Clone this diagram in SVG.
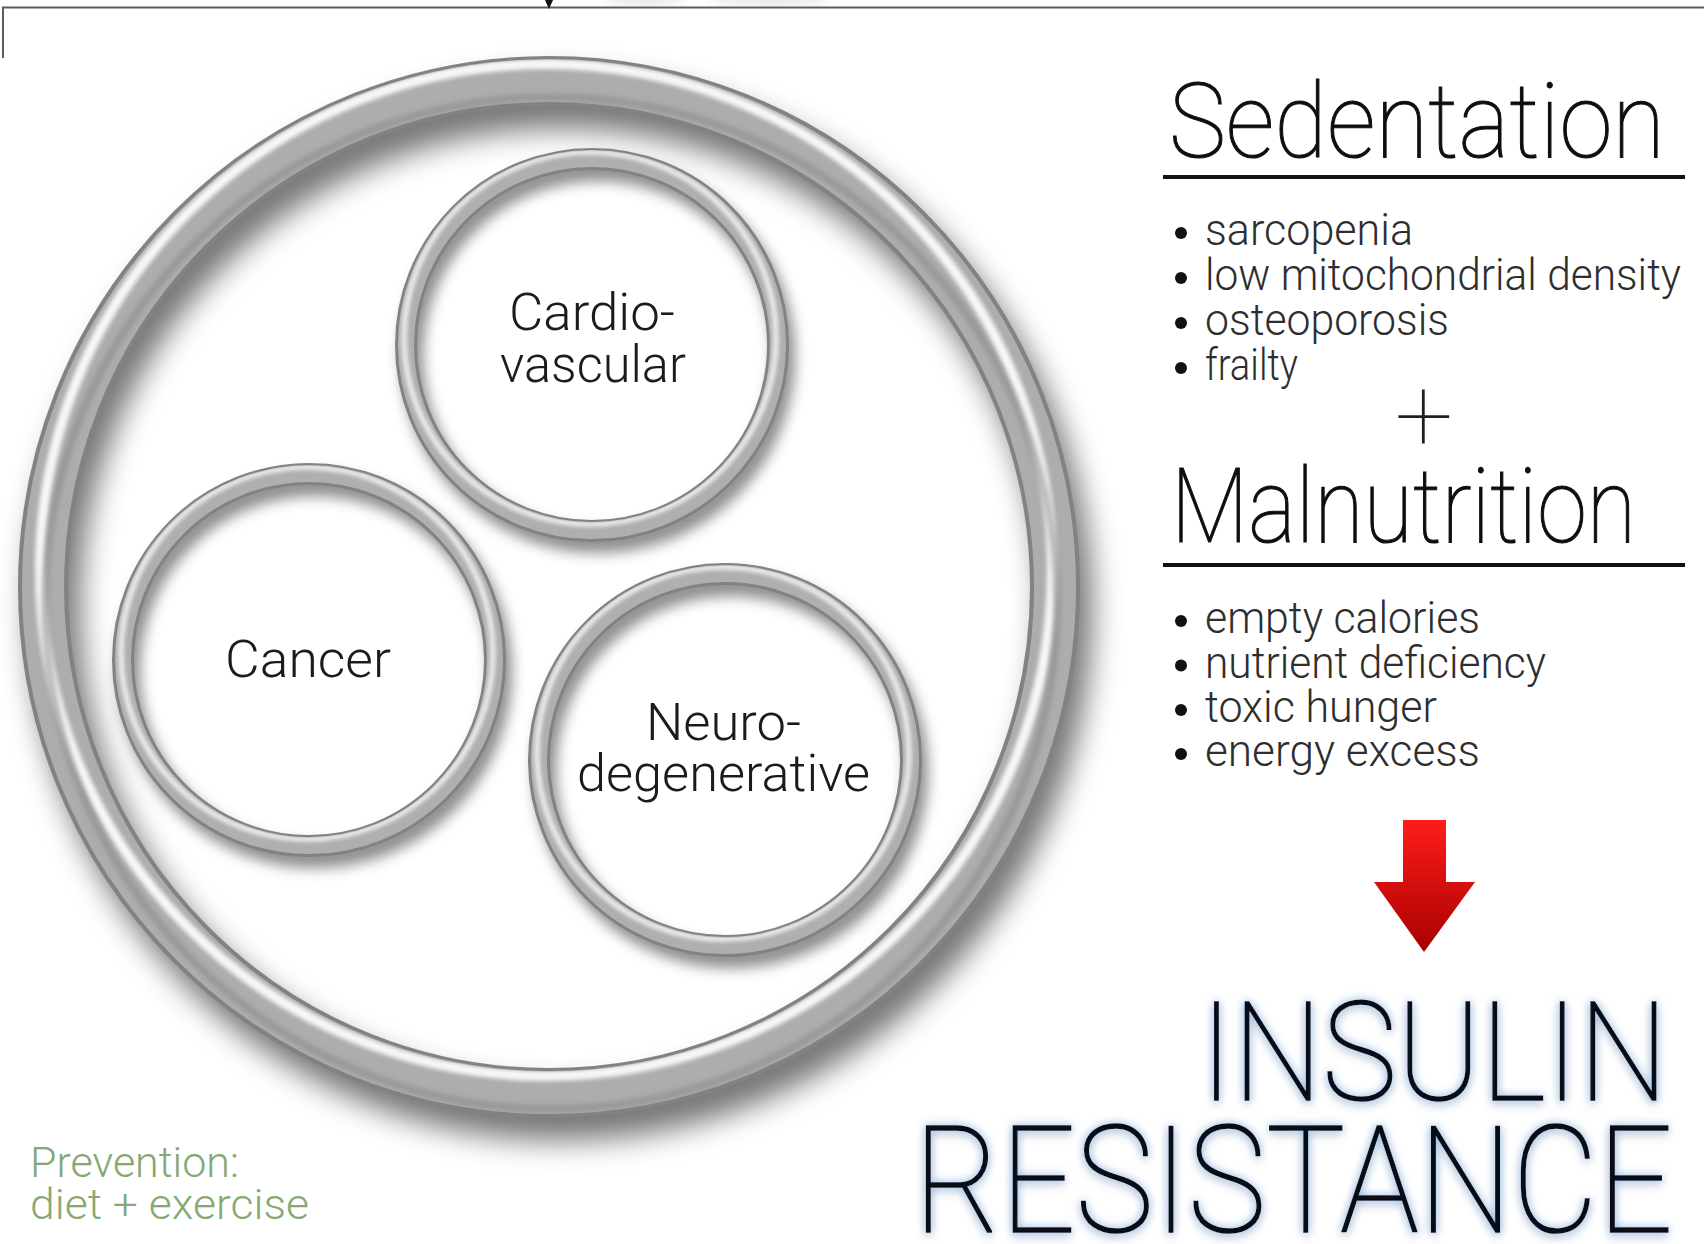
<svg xmlns="http://www.w3.org/2000/svg" xmlns:xlink="http://www.w3.org/1999/xlink" width="1704" height="1244" viewBox="0 0 1704 1244">
<style>
  text { font-family: Roboto, "Open Sans", "Liberation Sans", sans-serif; font-weight: 300; }
  .node-label { font-size: 52px; fill: #1b1b1b; }
  .heading { font-size: 103px; font-weight: 100; fill: #0e0e0e; stroke: #0e0e0e; stroke-width: 1.1; }
  .item { font-size: 44px; fill: #2e2e2e; }
  .plus { font-size: 104px; font-weight: 100; fill: #1e1e1e; }
  .big { font-weight: 100; fill: #070a14; stroke: #070a14; stroke-width: 1.6; }
  .prevention { font-size: 43px; fill: #86a874; }
  .bullet { fill: #111; }
  .rule { stroke: #111; stroke-width: 4; }
  .frame { fill: none; stroke: #5c5c5c; stroke-width: 2; }
  .ring { fill: none; }
</style>
<defs>
  <filter id="blurBig" x="-20%" y="-20%" width="140%" height="140%"><feGaussianBlur stdDeviation="15"/></filter>
  <filter id="blurSmall" x="-20%" y="-20%" width="140%" height="140%"><feGaussianBlur stdDeviation="7"/></filter>
  <filter id="soft" x="-10%" y="-10%" width="120%" height="120%"><feGaussianBlur stdDeviation="2"/></filter>
  <filter id="haze" x="-50%" y="-200%" width="200%" height="500%"><feGaussianBlur stdDeviation="4"/></filter>
  <filter id="glow" x="-10%" y="-30%" width="120%" height="160%">
    <feGaussianBlur in="SourceAlpha" stdDeviation="5" result="b"/>
    <feFlood flood-color="#7ea6dc" flood-opacity="0.9"/>
    <feComposite in2="b" operator="in" result="g"/>
    <feOffset in="b" dy="5" result="ob"/>
    <feFlood flood-color="#000" flood-opacity="0.22"/>
    <feComposite in2="ob" operator="in" result="sh"/>
    <feMerge><feMergeNode in="sh"/><feMergeNode in="g"/><feMergeNode in="SourceGraphic"/></feMerge>
  </filter>
  <linearGradient id="arrowFill" x1="0" y1="0" x2="0" y2="1">
    <stop offset="0" stop-color="#ff1c1c"/>
    <stop offset="1" stop-color="#a80000"/>
  </linearGradient>

  <!-- band masks keep the tube highlights inside each ring -->
  <mask id="outerBand" maskUnits="userSpaceOnUse" x="-600" y="-600" width="1200" height="1200">
    <circle r="506" fill="none" stroke="#fff" stroke-width="44"/>
  </mask>
  <mask id="smallBand" maskUnits="userSpaceOnUse" x="-240" y="-240" width="480" height="480">
    <circle r="186" fill="none" stroke="#fff" stroke-width="18"/>
  </mask>

  <!-- large metallic ring, centred on the origin -->
  <g id="bigRing" class="ring">
    <circle r="506" fill="none" stroke="#000" stroke-opacity="0.55" stroke-width="50" transform="translate(12,22)" filter="url(#blurBig)"/>
    <circle r="506" fill="none" stroke="#828282" stroke-width="50"/>
    <circle r="506" fill="none" stroke="#adadad" stroke-width="42"/>
    <g mask="url(#outerBand)">
      <circle r="506" fill="none" stroke="#fff" stroke-opacity="0.9" stroke-width="10" transform="translate(-3,-17)" filter="url(#soft)"/>
      <circle r="506" fill="none" stroke="#888" stroke-opacity="0.5" stroke-width="8" transform="translate(2,16)" filter="url(#soft)"/>
    </g>
  </g>

  <!-- small metallic ring, centred on the origin -->
  <g id="smallRing" class="ring">
    <circle r="186" fill="none" stroke="#000" stroke-opacity="0.45" stroke-width="22" transform="translate(6,11)" filter="url(#blurSmall)"/>
    <circle r="186" fill="none" stroke="#828282" stroke-width="22"/>
    <circle r="186" fill="none" stroke="#afafaf" stroke-width="16"/>
    <g mask="url(#smallBand)">
      <circle r="186" fill="none" stroke="#fff" stroke-opacity="0.85" stroke-width="5" transform="translate(-2,-7)" filter="url(#soft)"/>
    </g>
  </g>
</defs>

<rect width="1704" height="1244" fill="#fff"/>

<!-- faint cut-off marks at the top edge -->
<g id="top-haze" fill="#d8d8d8" filter="url(#haze)">
  <ellipse cx="646" cy="0" rx="40" ry="3"/>
  <ellipse cx="770" cy="0" rx="60" ry="3"/>
</g>

<!-- frame line along the top, and the red arrow -->
<g id="connectors">
  <path class="frame" d="M3,58 V7.5 H1704"/>
  <polygon points="545,0 553,0 549,9" fill="#111"/>
  <path id="arrow-red" d="M1403,820 H1446 V882 H1475 L1424,952 L1374,882 H1403 Z" fill="url(#arrowFill)"/>
</g>

<g id="ring-outer">
  <use href="#bigRing" xlink:href="#bigRing" transform="translate(549,587)"/>
</g>

<g id="node-cardio">
  <use href="#smallRing" xlink:href="#smallRing" transform="translate(592,345)"/>
  <text class="node-label" x="509" y="330" textLength="166" lengthAdjust="spacingAndGlyphs">Cardio-</text>
  <text class="node-label" x="500" y="382" textLength="186" lengthAdjust="spacingAndGlyphs">vascular</text>
</g>

<g id="node-cancer">
  <use href="#smallRing" xlink:href="#smallRing" transform="translate(309,660)"/>
  <text class="node-label" x="225" y="677" textLength="166" lengthAdjust="spacingAndGlyphs">Cancer</text>
</g>

<g id="node-neuro">
  <use href="#smallRing" xlink:href="#smallRing" transform="translate(725,760)"/>
  <text class="node-label" x="646" y="740" textLength="155" lengthAdjust="spacingAndGlyphs">Neuro-</text>
  <text class="node-label" x="577" y="791" textLength="293" lengthAdjust="spacingAndGlyphs">degenerative</text>
</g>

<g id="node-sedentation">
  <text class="heading" x="1169" y="157" textLength="496" lengthAdjust="spacingAndGlyphs">Sedentation</text>
  <line class="rule" x1="1163" y1="177" x2="1685" y2="177"/>
  <circle class="bullet" cx="1181" cy="233" r="6"/>
  <circle class="bullet" cx="1181" cy="278" r="6"/>
  <circle class="bullet" cx="1181" cy="323" r="6"/>
  <circle class="bullet" cx="1181" cy="368" r="6"/>
  <text class="item" x="1205" y="245" textLength="208" lengthAdjust="spacingAndGlyphs">sarcopenia</text>
  <text class="item" x="1205" y="290" textLength="476" lengthAdjust="spacingAndGlyphs">low mitochondrial density</text>
  <text class="item" x="1205" y="335" textLength="244" lengthAdjust="spacingAndGlyphs">osteoporosis</text>
  <text class="item" x="1205" y="380" textLength="93" lengthAdjust="spacingAndGlyphs">frailty</text>
</g>

<g id="node-plus">
  <text class="plus" x="1424" y="451" text-anchor="middle">+</text>
</g>

<g id="node-malnutrition">
  <text class="heading" x="1171" y="542" textLength="465" lengthAdjust="spacingAndGlyphs">Malnutrition</text>
  <line class="rule" x1="1163" y1="565" x2="1685" y2="565"/>
  <circle class="bullet" cx="1181" cy="621" r="6"/>
  <circle class="bullet" cx="1181" cy="665.5" r="6"/>
  <circle class="bullet" cx="1181" cy="710" r="6"/>
  <circle class="bullet" cx="1181" cy="754" r="6"/>
  <text class="item" x="1205" y="633" textLength="275" lengthAdjust="spacingAndGlyphs">empty calories</text>
  <text class="item" x="1205" y="677.5" textLength="341" lengthAdjust="spacingAndGlyphs">nutrient deficiency</text>
  <text class="item" x="1205" y="722" textLength="232" lengthAdjust="spacingAndGlyphs">toxic hunger</text>
  <text class="item" x="1205" y="766" textLength="275" lengthAdjust="spacingAndGlyphs">energy excess</text>
</g>

<g id="node-insulin-resistance" filter="url(#glow)">
  <text class="big" x="1200" y="1100" font-size="138" textLength="468" lengthAdjust="spacingAndGlyphs">INSULIN</text>
  <text class="big" x="914" y="1232" font-size="148" textLength="759" lengthAdjust="spacingAndGlyphs">RESISTANCE</text>
</g>

<g id="node-prevention">
  <text class="prevention" x="30" y="1177" textLength="209" lengthAdjust="spacingAndGlyphs">Prevention:</text>
  <text class="prevention" x="30" y="1219" textLength="279" lengthAdjust="spacingAndGlyphs">diet + exercise</text>
</g>
</svg>
